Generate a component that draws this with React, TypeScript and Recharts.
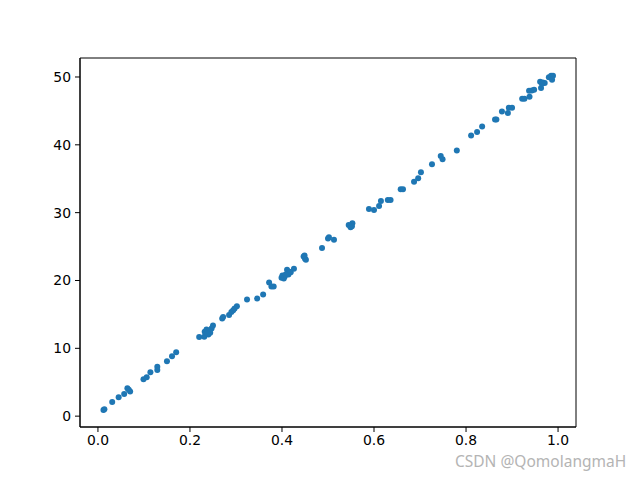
import React from 'react';
import { ScatterChart, Scatter, XAxis, YAxis, ReferenceArea } from 'recharts';

const xValues = [
  0.012, 0.014, 0.031, 0.045, 0.057, 0.064, 0.07, 0.067, 0.099, 0.106,
  0.114, 0.129, 0.129, 0.15, 0.161, 0.17, 0.22, 0.231, 0.232, 0.236,
  0.241, 0.24, 0.247, 0.25, 0.244, 0.27, 0.272, 0.285, 0.29, 0.294,
  0.297, 0.302, 0.324, 0.346, 0.359, 0.372, 0.377, 0.382, 0.399, 0.401,
  0.406, 0.411, 0.414, 0.419, 0.426, 0.404, 0.416, 0.447, 0.45, 0.452,
  0.449, 0.487, 0.5, 0.502, 0.513, 0.545, 0.549, 0.553, 0.589, 0.6,
  0.611, 0.615, 0.63, 0.636, 0.658, 0.663, 0.687, 0.696, 0.702, 0.726,
  0.745, 0.749, 0.78, 0.811, 0.824, 0.835, 0.863, 0.866, 0.878, 0.891,
  0.893, 0.9, 0.922, 0.927, 0.938, 0.937, 0.943, 0.948, 0.963, 0.961,
  0.967, 0.971, 0.98, 0.985, 0.989, 0.987, 0.965, 0.552, 0.408, 0.238,
];

const yValues = [
  0.9, 1.0, 2.08, 2.8, 3.25, 4.13, 3.64, 3.9, 5.45, 5.75,
  6.48, 7.3, 6.82, 8.09, 8.83, 9.41, 11.66, 11.7, 12.43, 12.79,
  12.58, 12.05, 12.93, 13.37, 12.3, 14.4, 14.6, 14.9, 15.37, 15.6,
  15.86, 16.2, 17.18, 17.33, 17.92, 19.72, 19.13, 19.13, 20.41, 20.75,
  20.6, 21.58, 20.9, 21.2, 21.73, 20.3, 21.3, 23.53, 23.2, 23.05,
  23.7, 24.8, 26.2, 26.36, 26.0, 28.18, 27.83, 28.42, 30.53, 30.38,
  30.97, 31.7, 31.85, 31.85, 33.46, 33.46, 34.57, 35.07, 35.95, 37.13,
  38.34, 37.86, 39.18, 41.38, 41.9, 42.7, 43.72, 43.72, 44.9, 44.7,
  45.48, 45.48, 46.8, 46.8, 47.1, 47.98, 48.02, 48.12, 48.36, 49.3,
  49.2, 49.1, 49.97, 50.18, 50.18, 49.6, 49.0, 28.0, 20.9, 12.2,
];

const xTicks = [0, 0.2, 0.4, 0.6, 0.8, 1.0];
const yTicks = [0, 10, 20, 30, 40, 50];
const xDomain = [-0.039, 1.039];
const yDomain = [-1.6, 52.8];

const data = xValues.map((x, i) => ({ x, y: yValues[i] }));

const tickStyle = { fontSize: 13.9, fill: '#000', fontFamily: 'DejaVu Sans' };

const Dot = (props: any) => <circle cx={props.cx} cy={props.cy} r={3} fill="#1f77b4" />;

const App: React.FC = () => {
  return (
    <div style={{ position: 'absolute', left: 0, top: 0, width: 640, height: 480, background: '#fff' }}>
      <ScatterChart width={640} height={480} margin={{ top: 58, right: 64, bottom: 0, left: 0 }}>
        <XAxis
          type="number"
          dataKey="x"
          domain={xDomain}
          ticks={xTicks}
          tickFormatter={(v: number) => v.toFixed(1)}
          height={53}
          stroke="#000"
          tickSize={5}
          tickMargin={3}
          tick={tickStyle}
          allowDataOverflow
        />
        <YAxis
          type="number"
          dataKey="y"
          domain={yDomain}
          ticks={yTicks}
          width={80}
          stroke="#000"
          tickSize={5}
          tickMargin={4}
          tick={tickStyle}
          allowDataOverflow
        />
        <ReferenceArea
          x1={xDomain[0]}
          x2={xDomain[1]}
          y1={yDomain[0]}
          y2={yDomain[1]}
          fill="none"
          fillOpacity={0}
          stroke="#000"
          strokeWidth={1}
          ifOverflow="visible"
        />
        <Scatter data={data} fill="#1f77b4" shape={Dot} isAnimationActive={false} />
      </ScatterChart>
      <div
        style={{
          position: 'absolute',
          left: 455,
          top: 450,
          fontFamily: 'Noto Sans',
          fontSize: 15.5,
          color: '#b4b4b4',
          whiteSpace: 'nowrap',
        }}
      >
        CSDN @QomolangmaH
      </div>
    </div>
  );
};

export default App;
